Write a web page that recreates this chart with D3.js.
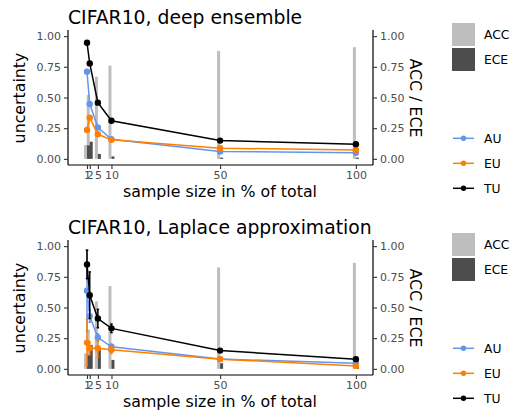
<!DOCTYPE html>
<html>
<head>
<meta charset="utf-8">
<script src="https://cdn.jsdelivr.net/npm/d3@7"></script>
<style>
  body { margin: 0; background: #fff; }
  text { font-family: "DejaVu Sans", sans-serif; }
</style>
</head>
<body>
<div id="chart"></div>
<script>
// sample sizes (% of total) and tick values
const sampleSizes = [1, 2, 5, 10, 50, 100];
const yTicks = [0, 0.25, 0.5, 0.75, 1];

// CIFAR10, deep ensemble
const deAU = [0.71, 0.447, 0.255, 0.16, 0.06, 0.05];
const deEU = [0.236, 0.336, 0.2, 0.155, 0.087, 0.073];
const deTU = [0.946, 0.778, 0.458, 0.31, 0.149, 0.12];
const deAUerr = [0.01, 0.01, 0.005, 0.005, 0.005, 0.005];
const deEUerr = [0.01, 0.01, 0.005, 0.005, 0.005, 0.005];
const deTUerr = [0.01, 0.01, 0.005, 0.005, 0.005, 0.005];
const deACC = [0.113, 0.52, 0.67, 0.76, 0.88, 0.91];
const deECE = [0.11, 0.14, 0.04, 0.02, 0.01, 0.01];

// CIFAR10, Laplace approximation
const laAU = [0.637, 0.43, 0.255, 0.18, 0.08, 0.046];
const laEU = [0.214, 0.168, 0.168, 0.155, 0.079, 0.024];
const laTU = [0.851, 0.6, 0.41, 0.33, 0.149, 0.079];
const laAUerr = [0.33, 0.05, 0.03, 0.02, 0.005, 0.005];
const laEUerr = [0.19, 0.05, 0.07, 0.03, 0.005, 0.005];
const laTUerr = [0.116, 0.19, 0.075, 0.035, 0.01, 0.005];
const laACC = [0.127, 0.32, 0.55, 0.675, 0.827, 0.864];
const laECE = [0.11, 0.195, 0.17, 0.073, 0.046, 0.02];

const colors = { AU: "#6495ED", EU: "#FF7F00", TU: "#000000" };
const barColors = { ACC: "#BEBEBE", ECE: "#4D4D4D" };

const width = 513, height = 412;

const svg = d3.select("#chart")
  .append("svg")
  .attr("width", width)
  .attr("height", height);

function drawPanel(top, title, au, eu, tu, auErr, euErr, tuErr, acc, ece) {
  const g = svg.append("g").attr("transform", `translate(0,${top})`);

  const x = d3.scaleLinear().domain([-6, 106.3]).range([68, 373]);
  const y = d3.scaleLinear().domain([-0.05, 1.05]).range([165, 30]);

  // bars (ACC left, ECE right of each sample size)
  const bw = x(1.1) - x(0);
  g.selectAll(".acc")
    .data(sampleSizes.map((s, i) => ({ s: s, v: acc[i] })))
    .enter().append("rect")
      .attr("x", d => x(d.s - 0.55) - bw / 2)
      .attr("y", d => y(d.v))
      .attr("width", bw)
      .attr("height", d => y(0) - y(d.v))
      .attr("fill", barColors.ACC);
  g.selectAll(".ece")
    .data(sampleSizes.map((s, i) => ({ s: s, v: ece[i] })))
    .enter().append("rect")
      .attr("x", d => x(d.s + 0.55) - bw / 2)
      .attr("y", d => y(d.v))
      .attr("width", bw)
      .attr("height", d => y(0) - y(d.v))
      .attr("fill", barColors.ECE);

  const series = [
    { key: "AU", vals: au, err: auErr },
    { key: "EU", vals: eu, err: euErr },
    { key: "TU", vals: tu, err: tuErr }
  ];

  const line = d3.line().x(d => x(d.s)).y(d => y(d.v));
  const cap = x(0.45) - x(0);

  series.forEach(ser => {
    const pts = sampleSizes.map((s, i) => ({ s: s, v: ser.vals[i], e: ser.err[i] }));
    const sg = g.append("g");
    // error bars
    pts.forEach(p => {
      const x0 = x(p.s), y1 = y(p.v + p.e), y2 = y(p.v - p.e);
      sg.append("line").attr("x1", x0).attr("x2", x0).attr("y1", y1).attr("y2", y2)
        .attr("stroke", colors[ser.key]).attr("stroke-width", 1.5);
      sg.append("line").attr("x1", x0 - cap).attr("x2", x0 + cap).attr("y1", y1).attr("y2", y1)
        .attr("stroke", colors[ser.key]).attr("stroke-width", 1.5);
      sg.append("line").attr("x1", x0 - cap).attr("x2", x0 + cap).attr("y1", y2).attr("y2", y2)
        .attr("stroke", colors[ser.key]).attr("stroke-width", 1.5);
    });
    sg.append("path").datum(pts)
      .attr("d", line)
      .attr("fill", "none")
      .attr("stroke", colors[ser.key])
      .attr("stroke-width", 1.5);
    sg.selectAll("circle").data(pts).enter().append("circle")
      .attr("cx", d => x(d.s))
      .attr("cy", d => y(d.v))
      .attr("r", 3.2)
      .attr("fill", colors[ser.key]);
  });

  // left axis
  const left = g.append("g")
    .attr("transform", "translate(68,0)")
    .call(d3.axisLeft(y).tickValues(yTicks).tickFormat(d3.format(".2f")).tickSizeOuter(0).tickSize(4).tickPadding(3));
  // right axis
  const right = g.append("g")
    .attr("transform", "translate(373,0)")
    .call(d3.axisRight(y).tickValues(yTicks).tickFormat(d3.format(".2f")).tickSizeOuter(0).tickSize(4).tickPadding(3));
  // bottom axis
  const bottom = g.append("g")
    .attr("transform", "translate(0,165)")
    .call(d3.axisBottom(x).tickValues(sampleSizes).tickFormat(d3.format("d")).tickSizeOuter(0).tickSize(4).tickPadding(2));

  [left, right, bottom].forEach(a => {
    a.select(".domain").attr("stroke", "#000").attr("stroke-width", 1.2);
    a.selectAll(".tick line").attr("stroke", "#333").attr("stroke-width", 1.1);
    a.selectAll(".tick text").attr("fill", "#4D4D4D").attr("font-size", "11px")
      .attr("font-family", "DejaVu Sans, sans-serif");
  });
  left.select(".domain").attr("d", "M0,30V165");
  right.select(".domain").attr("d", "M0,30V165");
  bottom.select(".domain").attr("d", "M68,0H373");

  // titles
  g.append("text").attr("x", 68).attr("y", 24)
    .attr("font-size", "18.8px").attr("fill", "#000").text(title);
  g.append("text").attr("x", 220).attr("y", 197)
    .attr("text-anchor", "middle").attr("font-size", "15.8px").text("sample size in % of total");
  g.append("text")
    .attr("transform", "translate(25,98) rotate(-90)")
    .attr("text-anchor", "middle").attr("font-size", "15.8px").text("uncertainty");
  g.append("text")
    .attr("transform", "translate(410,98) rotate(90)")
    .attr("text-anchor", "middle").attr("font-size", "15.8px").text("ACC / ECE");

  // legend: bars
  ["ACC", "ECE"].forEach((k, i) => {
    const ly = 23 + i * 25;
    g.append("rect").attr("x", 452).attr("y", ly).attr("width", 23).attr("height", 23)
      .attr("fill", barColors[k]);
    g.append("text").attr("x", 484).attr("y", ly + 11.5).attr("dy", "0.35em")
      .attr("font-size", "12.3px").text(k);
  });
  // legend: lines
  ["AU", "EU", "TU"].forEach((k, i) => {
    const ly = 138.3 + i * 25;
    g.append("line").attr("x1", 453).attr("x2", 474).attr("y1", ly).attr("y2", ly)
      .attr("stroke", colors[k]).attr("stroke-width", 1.5);
    g.append("circle").attr("cx", 463.5).attr("cy", ly).attr("r", 2.7).attr("fill", colors[k]);
    g.append("text").attr("x", 484).attr("y", ly).attr("dy", "0.35em")
      .attr("font-size", "12.3px").text(k);
  });
}

drawPanel(0, "CIFAR10, deep ensemble", deAU, deEU, deTU, deAUerr, deEUerr, deTUerr, deACC, deECE);
drawPanel(210, "CIFAR10, Laplace approximation", laAU, laEU, laTU, laAUerr, laEUerr, laTUerr, laACC, laECE);
</script>
</body>
</html>
